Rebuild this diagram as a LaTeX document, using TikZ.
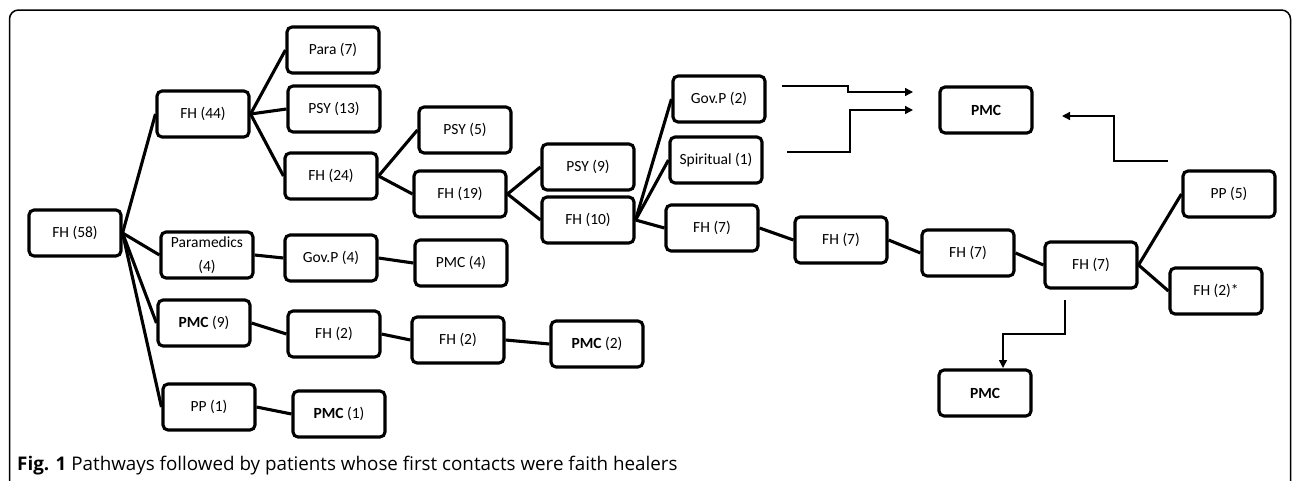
\documentclass[tikz,border=0pt]{standalone}
\usepackage{fontspec}
\setmainfont{Carlito}
\newfontfamily\capfont{Open Sans}
\usetikzlibrary{arrows.meta}
\tikzset{
  box/.style={draw, line width=3.1pt, rounded corners=5pt, minimum width=92pt, minimum height=46pt, inner sep=0pt, align=center, font=\fontsize{15.5}{18}\selectfont},
  link/.style={line width=3.1pt},
  flow/.style={line width=1.4pt, -{Triangle[length=8pt,width=8pt]}},
}
\begin{document}
\begin{tikzpicture}[x=1pt,y=-1pt]
\useasboundingbox (0,0) rectangle (1292,480);
\draw[line width=1.5pt, rounded corners=9pt] (9.5,10) rectangle (1290.5,500);
% nodes
\node[box] (fh58) at (75,233) {FH (58)};
\node[box] (fh44) at (203,114) {FH (44)};
\node[box] (para7) at (333,50) {Para (7)};
\node[box] (psy13) at (334,109) {PSY (13)};
\node[box] (fh24) at (331,176) {FH (24)};
\node[box] (psy5) at (465,130) {PSY (5)};
\node[box] (fh19) at (460,194) {FH (19)};
\node[box] (psy9) at (588,167) {PSY (9)};
\node[box] (fh10) at (588,220) {FH (10)};
\node[box] (gov2) at (719,99) {Gov.P (2)};
\node[box] (spir1) at (716,160) {Spiritual (1)};
\node[box] (fh7a) at (712,228) {FH (7)};
\node[box] (fh7b) at (841,240) {FH (7)};
\node[box] (fh7c) at (968,253) {FH (7)};
\node[box] (fh7d) at (1091,265) {FH (7)};
\node[box] (pp5) at (1229,194) {PP (5)};
\node[box] (fh2s) at (1216,291) {FH (2)*};
\node[box] (pmctop) at (986,110) {\textbf{PMC}};
\node[box] (pmcbot) at (985,393) {\textbf{PMC}};
\node[box] (param4) at (207,255) {Paramedics\\[6pt](4)};
\node[box] (gov4) at (331,258) {Gov.P (4)};
\node[box] (pmc4) at (461,263) {PMC (4)};
\node[box] (pmc9) at (204,323) {\textbf{PMC} (9)};
\node[box] (fh2a) at (334,334) {FH (2)};
\node[box] (fh2b) at (458,340) {FH (2)};
\node[box] (pmc2) at (597,344) {\textbf{PMC} (2)};
\node[box] (pp1) at (209,407) {PP (1)};
\node[box] (pmc1) at (339,414) {\textbf{PMC} (1)};
% tree links
\draw[link] (fh58.east) -- (fh44.west);
\draw[link] (fh58.east) -- (param4.west);
\draw[link] (fh58.east) -- (pmc9.west);
\draw[link] (fh58.east) -- (pp1.west);
\draw[link] (fh44.east) -- (para7.west);
\draw[link] (fh44.east) -- (psy13.west);
\draw[link] (fh44.east) -- (fh24.west);
\draw[link] (fh24.east) -- (psy5.west);
\draw[link] (fh24.east) -- (fh19.west);
\draw[link] (fh19.east) -- (psy9.west);
\draw[link] (fh19.east) -- (fh10.west);
\draw[link] (fh10.east) -- (gov2.west);
\draw[link] (fh10.east) -- (spir1.west);
\draw[link] (fh10.east) -- (fh7a.west);
\draw[link] (fh7a.east) -- (fh7b.west);
\draw[link] (fh7b.east) -- (fh7c.west);
\draw[link] (fh7c.east) -- (fh7d.west);
\draw[link] (fh7d.east) -- (pp5.west);
\draw[link] (fh7d.east) -- (fh2s.west);
\draw[link] (param4.east) -- (gov4.west);
\draw[link] (gov4.east) -- (pmc4.west);
\draw[link] (pmc9.east) -- (fh2a.west);
\draw[link] (fh2a.east) -- (fh2b.west);
\draw[link] (fh2b.east) -- (pmc2.west);
\draw[link] (pp1.east) -- (pmc1.west);
% arrows
\coordinate (a1s) at (782,86);
\coordinate (a1e) at (913,92);
\coordinate (a2s) at (787,152);
\coordinate (a2e) at (913,110);
\coordinate (a3s) at (1168,161);
\coordinate (a3e) at (1062,116);
\coordinate (a4s) at (1065,300);
\coordinate (a4e) at (1003,368);
\draw[flow] (a1s) -- (848,86) -- (848,92) -- (a1e);
\draw[flow] (a2s) -- (850,152) -- (850,110) -- (a2e);
\draw[flow] (a3s) -- (1114,161) -- (1114,116) -- (a3e);
\draw[flow] (a4s) -- (1065,334) -- (1003,334) -- (a4e);
% caption
\node[anchor=base west, inner sep=0pt, font=\capfont\fontsize{18.8}{22}\selectfont] (cap) at (17,470) {\textbf{Fig. 1} Pathways followed by patients whose first contacts were faith healers};
\end{tikzpicture}
\end{document}
